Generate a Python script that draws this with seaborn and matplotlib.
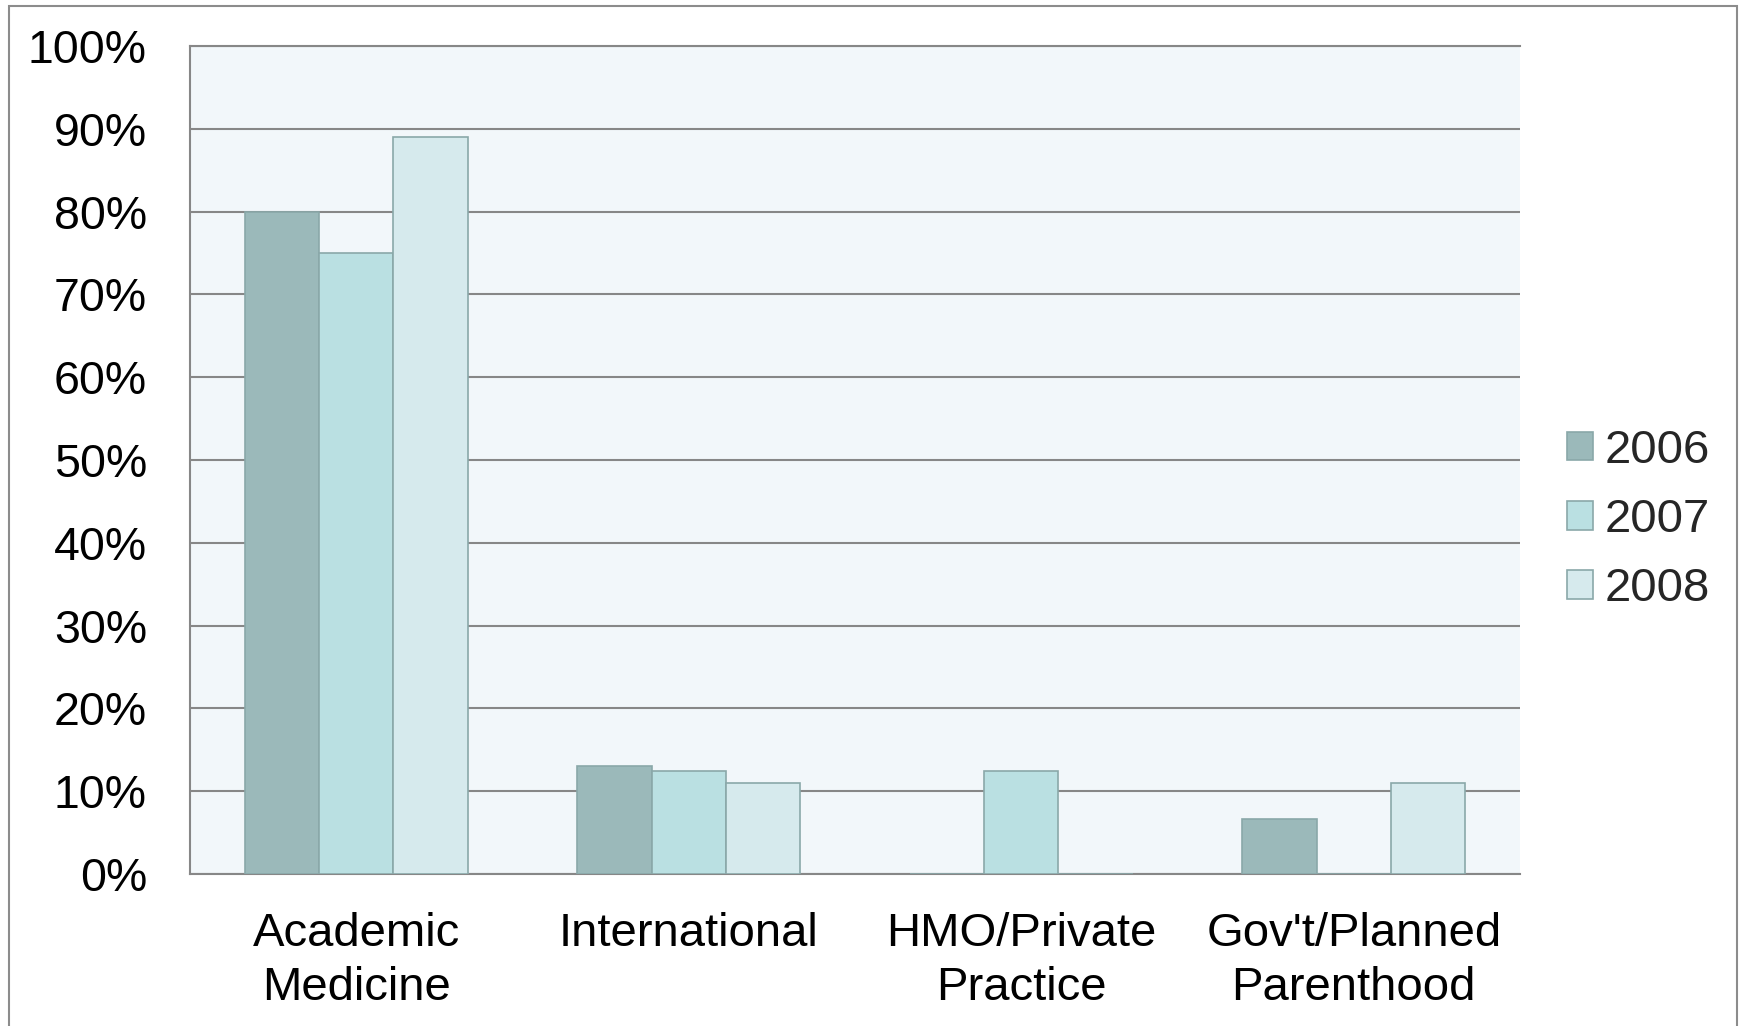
import matplotlib
matplotlib.use("Agg")
import matplotlib.pyplot as plt
import seaborn as sns
import pandas as pd
from matplotlib.patches import Rectangle
from matplotlib.ticker import FuncFormatter

categories = ["Academic\nMedicine", "International", "HMO/Private\nPractice", "Gov't/Planned\nParenthood"]
years = ["2006", "2007", "2008"]
values_2006 = [80, 13, 0, 6.6]
values_2007 = [75, 12.5, 12.5, 0]
values_2008 = [89, 11, 0, 11]
yticks = [0, 10, 20, 30, 40, 50, 60, 70, 80, 90, 100]

fill_colors = ["#9BB9BA", "#BAE0E2", "#D6EAED"]
edge_color = "#8AA8A9"
grid_color = "#878787"

rows = []
for yr, vals in zip(years, [values_2006, values_2007, values_2008]):
    for c, v in zip(categories, vals):
        rows.append({"category": c, "year": yr, "value": v})
df = pd.DataFrame(rows)

sns.set_theme(style="white")
plt.rcParams["font.family"] = ["Liberation Sans", "DejaVu Sans"]

fig = plt.figure(figsize=(17.45, 10.26), dpi=100)
ax = fig.add_axes([190/1745, 1-874/1026, (1520-190)/1745, (874-46)/1026])
ax.set_facecolor("#F2F7FA")

sns.barplot(data=df, x="category", y="value", hue="year", order=categories,
            hue_order=years, palette=fill_colors, width=0.67, ax=ax,
            edgecolor=edge_color, linewidth=1.2, saturation=1, legend=True, zorder=3)

ax.set_xlim(-0.5, 3.5)
ax.set_ylim(0, 100)
ax.set_yticks(yticks)
ax.yaxis.set_major_formatter(FuncFormatter(lambda v, p: f"{int(v)}%"))
ax.grid(axis="y", color=grid_color, linewidth=1.5, zorder=0)
ax.set_axisbelow(True)
ax.set_xlabel("")
ax.set_ylabel("")
ax.tick_params(axis="y", length=0, pad=31, labelsize=33.5, colors="black")
ax.tick_params(axis="x", length=0, pad=27, labelsize=34, colors="black")
for lbl in ax.get_xticklabels():
    lbl.set_linespacing(1.32)

for side in ["left", "top", "bottom"]:
    ax.spines[side].set_visible(True)
    ax.spines[side].set_color(grid_color)
    ax.spines[side].set_linewidth(1.5)
ax.spines["right"].set_visible(False)

handles, labels = ax.get_legend_handles_labels()
ax.legend(handles, labels, loc="center left", bbox_to_anchor=(1567/1745, 1-520/1026),
          bbox_transform=fig.transFigure, frameon=False, fontsize=34,
          handlelength=0.55, handleheight=0.55, handletextpad=0.25,
          labelspacing=0.53, borderpad=0, borderaxespad=0)

border = Rectangle((9/1745, -0.02), (1737-9)/1745, 1.02-6/1026, transform=fig.transFigure,
                   fill=False, edgecolor="#8C8C8C", linewidth=1.5, clip_on=False)
fig.patches.append(border)

fig.savefig("out.png", dpi=100, facecolor="white")
